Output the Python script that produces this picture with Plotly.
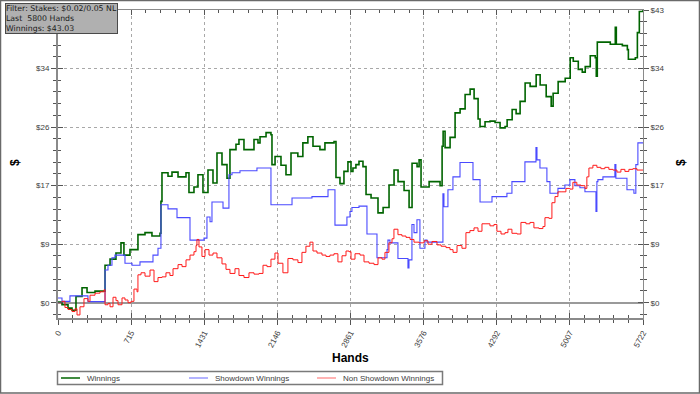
import plotly.graph_objects as go

# ---------------- data ----------------
win_hands = [0, 39, 98, 137, 176, 235, 284, 362, 450, 460, 509, 567, 616, 645, 704, 782, 851, 919, 998,
             1007, 1017, 1076, 1115, 1174, 1252, 1281, 1330, 1369, 1418, 1467, 1516, 1555, 1604, 1653,
             1682, 1741, 1770, 1819, 1917, 1956, 1976, 2035, 2083, 2093, 2123, 2181, 2230, 2279, 2346,
             2395, 2444, 2494, 2562, 2611, 2700, 2719, 2758, 2797, 2836, 2866, 2885, 2914, 2944, 2983,
             3013, 3062, 3130, 3180, 3238, 3287, 3326, 3385, 3434, 3463, 3512, 3532, 3551, 3630, 3718,
             3737, 3757, 3767, 3786, 3835, 3884, 3933, 3982, 4031, 4070, 4109, 4128, 4177, 4226, 4275,
             4324, 4373, 4393, 4442, 4481, 4520, 4569, 4618, 4677, 4716, 4775, 4824, 4843, 4892, 4961,
             5010, 5040, 5089, 5128, 5157, 5206, 5255, 5265, 5275, 5334, 5402, 5451, 5461, 5520, 5569,
             5579, 5647, 5667, 5686, 5722]
win_vals = [0.1, -0.3, -0.8, -1.1, 0.9, 2.2, 1.5, 1.7, 1.7, 5.5, 6.4, 7.3, 8.8, 7.0, 7.8, 10.0, 10.3, 9.8, 10.2,
            14.9, 19.1, 18.6, 19.2, 18.5, 19.1, 16.2, 17.0, 18.8, 16.2, 19.5, 17.6, 22.0, 20.3, 18.3,
            22.5, 23.3, 24.0, 22.5, 24.0, 23.5, 24.4, 25.0, 24.7, 20.3, 21.5, 20.2, 18.8, 22.0, 21.5,
            23.5, 24.4, 23.0, 22.5, 23.5, 23.7, 18.4, 17.5, 19.3, 20.7, 19.3, 19.8, 20.3, 20.8, 20.0,
            15.9, 15.4, 13.2, 14.0, 17.3, 19.5, 17.8, 16.5, 14.0, 20.5, 20.0, 21.0, 17.0, 17.8, 17.8,
            17.2, 23.0, 25.2, 22.8, 24.3, 27.9, 28.5, 30.6, 31.4, 30.0, 27.0, 25.9, 26.6, 26.7, 26.5,
            25.7, 25.9, 26.9, 28.4, 27.8, 29.6, 32.3, 31.8, 33.5, 32.0, 30.3, 28.9, 30.8, 32.5, 33.0,
            36.0, 35.5, 34.3, 33.9, 34.7, 36.3, 36.0, 33.3, 38.3, 38.3, 38.0, 40.5, 38.0, 37.8, 37.2,
            35.8, 36.0, 39.7, 42.8, 43.03]

sd_hands = [0, 39, 117, 293, 460, 489, 528, 557, 655, 724, 802, 929, 978, 1007, 1076, 1164, 1291, 1428,
            1457, 1487, 1506, 1614, 1672, 1702, 1780, 1946, 2083, 2289, 2484, 2641, 2709, 2826, 2856,
            2875, 2944, 3022, 3120, 3218, 3227, 3247, 3325, 3423, 3433, 3462, 3482, 3511, 3540, 3589,
            3609, 3765, 3775, 3814, 3863, 3932, 4059, 4128, 4245, 4391, 4440, 4567, 4675, 4685, 4714,
            4782, 4812, 4890, 4958, 5007, 5056, 5105, 5154, 5262, 5271, 5281, 5330, 5447, 5457, 5565,
            5633, 5652, 5672, 5722]
sd_vals = [0.7, 0.2, 1.0, 0.15, 4.8, 5.5, 6.6, 7.0, 5.8, 5.5, 6.0, 7.0, 8.0, 14.4, 13.8, 12.5, 9.2, 9.5,
           12.6, 11.9, 14.8, 13.9, 18.8, 19.1, 19.4, 19.8, 14.4, 15.4, 15.6, 16.6, 11.4, 12.6, 13.4,
           14.0, 14.2, 10.1, 6.6, 7.8, 9.2, 8.8, 6.5, 5.1, 6.3, 11.5, 10.3, 12.2, 8.0, 9.2,
           8.9, 16.0, 14.1, 16.6, 18.5, 20.6, 18.1, 14.8, 15.6, 16.1, 17.8, 20.7, 22.8, 21.0, 19.8,
           17.8, 16.1, 16.8, 17.3, 18.1, 17.2, 16.9, 16.3, 13.4, 17.8, 18.1, 18.5, 20.3, 18.3, 16.6,
           16.1, 20.3, 23.5, 23.5]

nsd_hands = [0, 39, 68, 98, 137, 166, 186, 215, 254, 293, 313, 362, 411, 450, 460, 489, 509, 538, 567, 587,
             626, 655, 685, 714, 743, 773, 782, 812, 851, 900, 939, 978, 1017, 1056, 1095, 1125, 1174,
             1213, 1252, 1291, 1330, 1350, 1359, 1379, 1408, 1438, 1477, 1516, 1555, 1604, 1643, 1682,
             1731, 1770, 1819, 1868, 1917, 1966, 2005, 2044, 2083, 2122, 2152, 2200, 2249, 2298, 2347,
             2386, 2425, 2464, 2494, 2533, 2582, 2621, 2660, 2699, 2738, 2778, 2817, 2846, 2866, 2905,
             2954, 2993, 3042, 3091, 3130, 3169, 3198, 3237, 3267, 3286, 3325, 3364, 3404, 3443, 3482,
             3531, 3580, 3619, 3658, 3707, 3747, 3795, 3834, 3864, 3903, 3951, 3990, 4029, 4069, 4108,
             4147, 4186, 4225, 4264, 4293, 4333, 4372, 4401, 4440, 4489, 4528, 4577, 4616, 4655, 4704,
             4743, 4763, 4802, 4831, 4861, 4890, 4929, 4968, 5007, 5036, 5075, 5115, 5154, 5173, 5193,
             5232, 5271, 5310, 5349, 5388, 5428, 5467, 5506, 5545, 5584, 5623, 5663, 5722]
nsd_vals = [0.0, 0.2, -0.7, -1.0, -1.3, -0.9, -1.8, -0.6, 0.6, 0.2, 1.1, 1.4, 1.6, 1.9, -0.3, -0.1, -0.6, 0.8,
            0.3, -0.3, 0.7, 0.4, 0.0, 0.2, 2.0, 1.6, 4.1, 4.4, 3.9, 4.8, 3.1, 3.7, 3.8, 4.4, 4.0, 5.0, 5.6,
            5.3, 6.3, 7.0, 7.5, 8.4, 9.3, 8.2, 6.8, 7.8, 7.0, 7.3, 6.6, 5.7, 4.9, 4.3,
            5.0, 4.0, 3.7, 4.4, 4.2, 4.3, 5.5, 5.3, 6.4, 7.3, 5.8, 4.4, 6.5, 6.3, 5.9,
            7.4, 8.3, 8.9, 7.6, 7.3, 7.0, 6.8, 7.0, 7.2, 6.0, 6.9, 7.6, 7.5, 6.4, 7.2,
            7.0, 6.0, 5.8, 5.6, 6.6, 6.4, 7.4, 8.8, 9.4, 10.8, 10.0, 9.8, 9.6, 9.3, 8.9,
            8.8, 9.1, 8.6, 9.0, 8.5, 8.3, 8.1, 7.8, 7.4, 8.4, 8.0, 10.3, 10.6, 11.0, 10.5,
            11.6, 11.6, 11.3, 11.5, 10.5, 10.1, 10.3, 10.8, 10.2, 10.1, 11.8, 11.6, 11.8, 11.0, 10.9,
            11.2, 12.5, 12.4, 14.7, 15.6, 16.3, 16.3, 16.8, 16.7, 17.7, 17.3, 17.2, 16.8, 18.5, 19.8,
            20.2, 19.9, 19.7, 19.9, 19.6, 19.5, 19.2, 19.6, 19.3, 19.6, 19.7, 19.5, 19.5]

series_names = ["Winnings", "Showdown Winnings", "Non Showdown Winnings"]
series_colors = ["#006400", "#4a4aff", "#ff1a1a"]
legend_colors = ["#006400", "#9a9aff", "#ff9a9a"]

x_tick_vals = [0, 715, 1431, 2146, 2861, 3576, 4292, 5007, 5722]
x_tick_text = ["0", "715", "1431", "2146", "2861", "3576", "4292", "5007", "5722"]
y_tick_vals = [0, 8.606, 17.212, 25.818, 34.424, 43.03]
y_tick_text = ["$0", "$9", "$17", "$26", "$34", "$43"]

info_lines = ["Filter: Stakes: $0.02/0.05 NL", "Last\u00a0\u00a05800 Hands", "Winnings: $43.03"]

# ---------------- figure ----------------
W, H = 700, 394
L, R, T, B = 58, 57, 10, 76
PW, PH = W - L - R, H - T - B

X_RANGE = [0, 5722]
Y_RANGE = [-2.25, 43.03]


def px_x(px):
    return (px - L) / PW


def px_y(py):
    return (T + PH - py) / PH


fig = go.Figure()
for hx, vy, nm, col, lw in [(win_hands, win_vals, series_names[0], series_colors[0], 1.6),
                            (sd_hands, sd_vals, series_names[1], series_colors[1], 1.1),
                            (nsd_hands, nsd_vals, series_names[2], series_colors[2], 1.0)]:
    fig.add_trace(go.Scatter(x=hx, y=vy, name=nm, mode="lines", showlegend=False,
                             line=dict(color=col, width=lw, shape="hv")))
# helper traces to activate the overlay axes (ticks crossing the axis lines)
fig.add_trace(go.Scatter(x=[None], y=[None], xaxis="x2", yaxis="y2", showlegend=False, hoverinfo="skip"))
fig.add_trace(go.Scatter(x=[None], y=[None], xaxis="x", yaxis="y3", showlegend=False, hoverinfo="skip"))

tick_font = dict(family="Liberation Sans, Arial, sans-serif", size=8, color="#404040")
axis_line = "#8a8a8a"
tick_col = "#555555"
left_tick_text = y_tick_text[:-1] + [""]  # top-left label is hidden by the info box

fig.update_layout(
    width=W, height=H,
    margin=dict(l=L, r=R, t=T, b=B, autoexpand=False),
    paper_bgcolor="white", plot_bgcolor="white",
    showlegend=False,
    xaxis=dict(range=X_RANGE, tickmode="array", tickvals=x_tick_vals, ticktext=x_tick_text,
               tickangle=-62, tickfont=tick_font, ticks="outside", ticklen=5, tickcolor=tick_col,
               showline=True, linecolor=axis_line, linewidth=2,
               showgrid=True, gridcolor="#a8a8a8", griddash="dot", gridwidth=1, zeroline=False,
               minor=dict(tickmode="linear", tick0=0, dtick=5722 / 40, ticks="outside", ticklen=3,
                          tickcolor=tick_col, showgrid=False),
               fixedrange=True),
    xaxis2=dict(range=X_RANGE, overlaying="x", anchor="y", side="bottom", showticklabels=False,
                tickmode="array", tickvals=x_tick_vals, ticks="inside", ticklen=5, tickcolor=tick_col,
                showline=True, linecolor=axis_line, linewidth=1, mirror="ticks",
                showgrid=False, zeroline=False,
                minor=dict(tickmode="linear", tick0=0, dtick=5722 / 40, ticks="inside", ticklen=3,
                           tickcolor=tick_col, showgrid=False),
                fixedrange=True),
    yaxis=dict(range=Y_RANGE, tickmode="array", tickvals=y_tick_vals, ticktext=left_tick_text,
               tickfont=tick_font, ticks="outside", ticklen=5, tickcolor=tick_col,
               showline=True, linecolor=axis_line, linewidth=2,
               showgrid=True, gridcolor="#a8a8a8", griddash="dot", gridwidth=1,
               zeroline=True, zerolinecolor="#9a9a9a", zerolinewidth=2,
               minor=dict(tickmode="linear", tick0=0, dtick=8.606 / 5, ticks="outside", ticklen=3,
                          tickcolor=tick_col, showgrid=False),
               fixedrange=True),
    yaxis2=dict(range=Y_RANGE, overlaying="y", anchor="x2", side="left", showticklabels=False,
                tickmode="array", tickvals=y_tick_vals, ticks="inside", ticklen=5, tickcolor=tick_col,
                showline=True, linecolor=axis_line, linewidth=1, mirror="ticks",
                showgrid=False, zeroline=False,
                minor=dict(tickmode="linear", tick0=0, dtick=8.606 / 5, ticks="inside", ticklen=3,
                           tickcolor=tick_col, showgrid=False),
                fixedrange=True),
    yaxis3=dict(range=Y_RANGE, overlaying="y", anchor="x", side="right",
                tickmode="array", tickvals=y_tick_vals, ticktext=y_tick_text,
                tickfont=tick_font, ticks="outside", ticklen=5, tickcolor=tick_col,
                showline=True, linecolor=axis_line, linewidth=1,
                showgrid=False, zeroline=False,
                minor=dict(tickmode="linear", tick0=0, dtick=8.606 / 5, ticks="outside", ticklen=3,
                           tickcolor=tick_col, showgrid=False),
                fixedrange=True),
)

# axis titles
title_font = dict(family="Liberation Sans, Arial, sans-serif", size=12, color="black")
fig.add_annotation(text="<b>Hands</b>", xref="paper", yref="paper", x=px_x(350), y=px_y(358),
                   showarrow=False, font=title_font, xanchor="center", yanchor="middle")
for tx in (15, 681):
    fig.add_annotation(text="<b>$</b>", xref="paper", yref="paper", x=px_x(tx), y=px_y(163),
                       showarrow=False, font=title_font, textangle=-90,
                       xanchor="center", yanchor="middle")

# legend box (drawn below the plot like the reference)
fig.add_shape(type="rect", xref="paper", yref="paper", x0=px_x(57.5), x1=px_x(442.5),
              y0=px_y(384.5), y1=px_y(371.5), line=dict(color="#7a7a7a", width=1.5),
              fillcolor="white", layer="above")
leg_font = dict(family="Liberation Sans, Arial, sans-serif", size=8, color="#404040")
for i, (nm, col) in enumerate(zip(series_names, legend_colors)):
    x0 = 61 + 128 * i
    fig.add_shape(type="line", xref="paper", yref="paper", x0=px_x(x0), x1=px_x(x0 + 19),
                  y0=px_y(378), y1=px_y(378), line=dict(color=col, width=1.5), layer="above")
    fig.add_annotation(text=nm, xref="paper", yref="paper", x=px_x(x0 + 24), y=px_y(378),
                       xanchor="left", yanchor="middle", showarrow=False, font=leg_font)

# info box
fig.add_annotation(text="<br>".join(info_lines), xref="paper", yref="paper",
                   x=px_x(5), y=px_y(3), xanchor="left", yanchor="top",
                   align="left", showarrow=False,
                   font=dict(family="DejaVu Sans, Verdana, sans-serif", size=7.8, color="#1a1a1a"),
                   bgcolor="#b0b0b0", bordercolor="#4a4a4a", borderwidth=1, borderpad=0)

# outer border of the picture
fig.add_shape(type="rect", xref="paper", yref="paper",
              x0=px_x(0.5), x1=px_x(699.5), y0=px_y(393), y1=px_y(0.5),
              line=dict(color="#6a6a6a", width=1.5), fillcolor="rgba(0,0,0,0)", layer="above")

fig.write_html("out.html", config={"displayModeBar": False, "staticPlot": True},
               post_script="document.body.style.margin='0px';document.body.style.overflow='hidden';")
